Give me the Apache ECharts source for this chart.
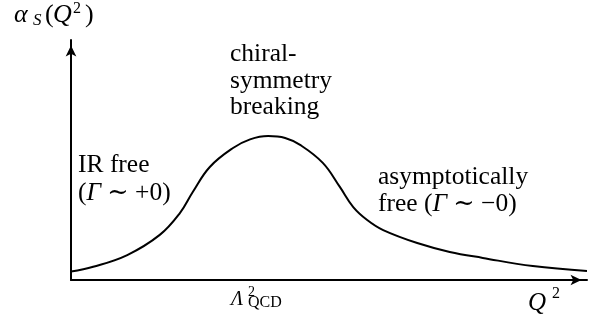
<!DOCTYPE html>
<html>
<head>
<meta charset="utf-8">
<script src="https://cdn.jsdelivr.net/npm/echarts@6/dist/echarts.min.js"></script>
<style>html,body{margin:0;padding:0;background:#fff}#c{width:600px;height:322px}</style>
</head>
<body>
<div id="c"></div>
<script>
// Q^2 (arbitrary units, 0..100 along the axis)
var q2 = [0, 4.3, 10.9, 17.2, 21.1, 23.6, 26.9, 31.4, 34.7, 38.2, 41.5, 44.4, 48.8, 52.1, 54.7, 57.4, 60.5, 67.1, 73.4, 79.8, 89.5, 100];
// alpha_S(Q^2) (arbitrary units)
var alphaS = [3.5, 5.5, 10.4, 18.8, 27.9, 36.7, 47.1, 55.0, 58.6, 60.0, 59.2, 56.3, 48.8, 38.8, 30.4, 25.0, 20.8, 15.4, 11.7, 9.2, 5.8, 3.75];

var labelChiral = ['chiral-', 'symmetry', 'breaking'];
var labelIR = ['IR free', '{rm|(}{it|Γ}{rm| ∼ +0)}'];
var labelAsym = ['asymptotically', '{rm|free (}{it|Γ}{rm| ∼ −0)}'];

var FAM = "'Liberation Serif', 'DejaVu Serif', serif";
function fnt(size, italic) { return (italic ? 'italic ' : 'normal ') + size + 'px ' + FAM; }
function T(x, base, text, size, italic) {
  return {
    type: 'text', silent: true, x: x, y: base - 0.305 * size,
    style: {
      text: text, x: 0, y: 0,
      font: fnt(size, italic),
      fill: '#000', align: 'left', verticalAlign: 'middle',
      rich: {
        rm: { font: fnt(size, false), fill: '#000' },
        it: { font: fnt(size, true), fill: '#000' }
      }
    }
  };
}

var data = q2.map(function (x, i) { return [x, alphaS[i]]; });
var FS = 25.5;
var graphics = [
  // alpha_S(Q^2)
  T(14, 23, 'α', 26, true),
  T(33, 25.5, 'S', 17, true),
  T(45, 23, '(', 26, false),
  T(53, 23, 'Q', 26, true),
  T(73, 14, '2', 16, false),
  T(85, 23, ')', 26, false),
  // Lambda^2_QCD
  T(231, 306, 'Λ', 20, true),
  T(248, 297, '2', 14, false),
  T(248, 308, 'QCD', 16, false),
  // Q^2
  T(528, 311, 'Q', 25, true),
  T(552, 299, '2', 16, false),
  // annotations
  T(230, 62, labelChiral[0], FS, false),
  T(230, 89, labelChiral[1], FS, false),
  T(230, 115, labelChiral[2], FS, false),
  T(78, 173, labelIR[0], FS, false),
  T(78, 201, labelIR[1], FS, false),
  T(378, 185, labelAsym[0], FS, false),
  T(378, 212, labelAsym[1], FS, false)
];

var axisCommon = {
  type: 'value', min: 0, max: 100,
  axisLine: { show: true, onZero: false, lineStyle: { color: '#000', width: 2 }, symbol: ['none', 'arrow'], symbolSize: [8, 11], symbolOffset: [0, -5.5] },
  axisTick: { show: false }, axisLabel: { show: false }, splitLine: { show: false }
};

var chart = echarts.init(document.getElementById('c'), null, { renderer: 'canvas' });
chart.setOption({
  animation: false,
  backgroundColor: '#fff',
  grid: { left: 71, right: 13, top: 40, bottom: 42 },
  xAxis: axisCommon,
  yAxis: axisCommon,
  series: [{
    type: 'line', data: data, smooth: 0.4, symbol: 'none', clip: false,
    lineStyle: { color: '#000', width: 2 }
  }],
  graphic: graphics
});
</script>
</body>
</html>
